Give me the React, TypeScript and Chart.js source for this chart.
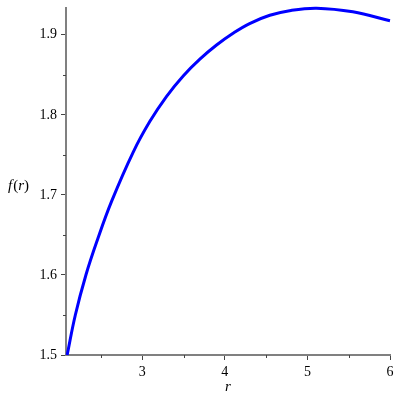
import React, { useEffect, useRef } from "react";
import { Chart, registerables } from "chart.js";

Chart.register(...registerables);

const rValues = [2.091, 2.19, 2.319, 2.456, 2.63, 2.891, 3.093, 3.295, 3.496, 3.698, 3.9, 4.1, 4.3, 4.545, 4.8, 5.11, 5.55, 6.0];
const fValues = [1.5, 1.55, 1.6003, 1.6435, 1.6922, 1.7535, 1.7919, 1.8232, 1.8487, 1.8697, 1.8873, 1.902, 1.9141, 1.9244, 1.9305, 1.9333, 1.9287, 1.9175];
const xMajorTicks = [3, 4, 5, 6];
const xMinorTicks = [2.5, 3.5, 4.5, 5.5];
const yMajorTicks = [1.5, 1.6, 1.7, 1.8, 1.9];
const yMinorTicks = [1.55, 1.65, 1.75, 1.85];
const xTitle = "r";

const SERIF = "'Liberation Serif', 'Times New Roman', serif";

function zeroPad(s: any) {
  s.paddingTop = 0;
  s.paddingBottom = 0;
  s.paddingLeft = 0;
  s.paddingRight = 0;
}

export default function App() {
  const ref = useRef<HTMLCanvasElement | null>(null);

  useEffect(() => {
    const canvas = ref.current;
    if (!canvas) return;

    const extras = {
      id: "extras",
      afterDraw(chart: any) {
        const ctx = chart.ctx;
        const xs = chart.scales.x;
        const ys = chart.scales.y;
        const area = chart.chartArea;
        ctx.save();
        ctx.strokeStyle = "#444444";
        ctx.lineWidth = 1;
        xMinorTicks.forEach((v) => {
          const px = Math.round(xs.getPixelForValue(v)) + 0.5;
          ctx.beginPath();
          ctx.moveTo(px, area.bottom);
          ctx.lineTo(px, area.bottom + 3);
          ctx.stroke();
        });
        yMinorTicks.forEach((v) => {
          const py = Math.round(ys.getPixelForValue(v)) + 0.5;
          ctx.beginPath();
          ctx.moveTo(area.left - 3, py);
          ctx.lineTo(area.left, py);
          ctx.stroke();
        });
        // axis titles
        ctx.fillStyle = "#000000";
        ctx.textBaseline = "middle";
        const italic = "italic 15px " + SERIF;
        const upright = "15px " + SERIF;
        const parts: [string, string][] = [
          ["f", italic],
          ["(", upright],
          ["r", italic],
          [")", upright],
        ];
        let x = 8;
        const y = 186;
        parts.forEach(([t, f]) => {
          ctx.font = f;
          ctx.textAlign = "left";
          ctx.fillText(t, x, y);
          x += ctx.measureText(t).width + (t === "f" ? 1 : 0);
        });
        ctx.font = italic;
        ctx.textAlign = "center";
        ctx.fillText(xTitle, (area.left + area.right) / 2, 387);
        ctx.restore();
      },
    };

    const chart = new Chart(canvas, {
      type: "scatter",
      data: {
        datasets: [
          {
            data: rValues.map((r, i) => ({ x: r, y: fValues[i] })),
            showLine: true,
            borderColor: "#0000ff",
            borderWidth: 3,
            pointRadius: 0,
            tension: 0.4,
            clip: 4,
          } as any,
        ],
      },
      options: {
        responsive: false,
        animation: false,
        layout: { padding: { top: 8, right: 10, left: 0, bottom: 0 } },
        plugins: { legend: { display: false }, tooltip: { enabled: false } },
        scales: {
          x: {
            type: "linear",
            min: 2.077,
            max: 6,
            afterFit: (s: any) => {
              s.height = 45;
              zeroPad(s);
            },
            afterBuildTicks: (s: any) => {
              s.ticks = xMajorTicks.map((v) => ({ value: v }));
            },
            grid: {
              drawOnChartArea: false,
              tickLength: 5,
              tickColor: "#444444",
              tickWidth: 1,
            },
            border: { display: true, color: "#808080", width: 2 },
            ticks: {
              color: "#000000",
              font: { family: SERIF, size: 14 },
              padding: 4,
              maxRotation: 0,
              autoSkip: false,
              callback: (v: any) => String(v),
            },
          },
          y: {
            type: "linear",
            min: 1.5,
            max: 1.9335,
            afterFit: (s: any) => {
              s.width = 66;
              zeroPad(s);
            },
            afterBuildTicks: (s: any) => {
              s.ticks = yMajorTicks.map((v) => ({ value: v }));
            },
            grid: {
              drawOnChartArea: false,
              tickLength: 5,
              tickColor: "#444444",
              tickWidth: 1,
            },
            border: { display: true, color: "#808080", width: 2 },
            ticks: {
              color: "#000000",
              font: { family: SERIF, size: 14 },
              padding: 4,
              autoSkip: false,
              callback: (v: any) => Number(v).toFixed(1),
            },
          },
        },
      },
      plugins: [extras],
    });

    return () => chart.destroy();
  }, []);

  return (
    <div style={{ position: "fixed", left: 0, top: 0, width: 400, height: 400, background: "#ffffff" }}>
      <canvas ref={ref} width={400} height={400} style={{ width: 400, height: 400 }} />
    </div>
  );
}
